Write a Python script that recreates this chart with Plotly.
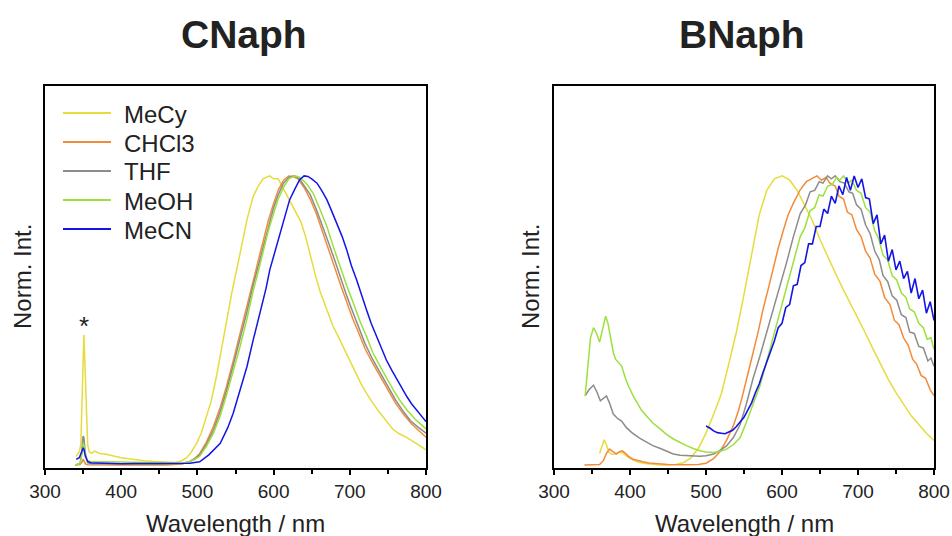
import plotly.graph_objects as go

# ---------------- DATA ----------------
solvents = ["MeCy", "CHCl3", "THF", "MeOH", "MeCN"]
colors = {"MeCy": "#E6DC3C", "CHCl3": "#F28C3C", "THF": "#8C8C8C", "MeOH": "#9BE03C", "MeCN": "#1414E6"}

# CNaph (left panel)
c_mecy_nm = [341, 345, 347, 349, 350, 351, 352, 354, 356, 358, 361, 365, 368, 372, 380, 390, 400, 410, 420, 430, 440, 450, 460, 470, 478, 486, 492, 499, 505, 512, 518, 525, 534, 545, 556, 565, 573, 580, 586, 591, 595, 600, 606, 612, 618, 624, 630, 636, 642, 648, 655, 661, 670, 678, 685, 692, 700, 707, 715, 722, 730, 740, 750, 757, 765, 775, 785, 792, 800]
c_mecy = [0.03, 0.045, 0.07, 0.25, 0.42, 0.45, 0.38, 0.2, 0.07, 0.045, 0.04, 0.048, 0.044, 0.04, 0.037, 0.03, 0.025, 0.022, 0.018, 0.015, 0.013, 0.011, 0.01, 0.009, 0.013, 0.025, 0.045, 0.075, 0.11, 0.167, 0.22, 0.306, 0.433, 0.594, 0.732, 0.848, 0.928, 0.965, 0.99, 0.995, 1.0, 0.99, 0.99, 0.96, 0.93, 0.9, 0.87, 0.84, 0.79, 0.725, 0.655, 0.6, 0.535, 0.48, 0.443, 0.405, 0.36, 0.318, 0.28, 0.248, 0.215, 0.179, 0.145, 0.122, 0.108, 0.095, 0.078, 0.065, 0.052]

c_chcl3_nm = [340, 346, 349, 350, 351, 353, 356, 370, 400, 430, 460, 480, 490, 497, 503, 512, 521, 530, 538, 547, 556, 565, 573, 580, 587, 593, 600, 606, 613, 620, 626, 632, 640, 648, 656, 664, 672, 680, 688, 696, 704, 712, 720, 730, 740, 750, 760, 770, 780, 790, 800]
c_chcl3 = [0.0, 0.002, 0.012, 0.02, 0.015, 0.004, 0.001, 0.0, 0.0, 0.0, 0.0, 0.003, 0.012, 0.024, 0.04, 0.08, 0.133, 0.2, 0.27, 0.36, 0.456, 0.55, 0.64, 0.71, 0.78, 0.845, 0.905, 0.95, 0.985, 1.0, 0.998, 0.99, 0.96, 0.92, 0.87, 0.81, 0.745, 0.685, 0.622, 0.562, 0.505, 0.455, 0.402, 0.352, 0.305, 0.258, 0.214, 0.177, 0.145, 0.12, 0.096]

c_thf_nm = [340, 346, 348, 350, 351, 353, 356, 360, 400, 450, 480, 490, 497, 503, 512, 521, 530, 538, 547, 556, 565, 573, 580, 587, 593, 600, 606, 613, 620, 627, 634, 640, 648, 656, 664, 672, 680, 688, 696, 704, 712, 720, 730, 740, 750, 760, 770, 780, 790, 800]
c_thf = [0.0, 0.005, 0.04, 0.1, 0.095, 0.04, 0.008, 0.004, 0.004, 0.003, 0.005, 0.012, 0.022, 0.035, 0.072, 0.12, 0.185, 0.255, 0.345, 0.435, 0.53, 0.62, 0.69, 0.765, 0.83, 0.89, 0.935, 0.975, 0.995, 1.0, 0.99, 0.965, 0.935, 0.885, 0.83, 0.77, 0.71, 0.645, 0.585, 0.528, 0.475, 0.42, 0.365, 0.317, 0.27, 0.225, 0.186, 0.152, 0.13, 0.11]

c_meoh_nm = [340, 346, 348, 350, 351, 353, 356, 360, 400, 450, 480, 490, 497, 503, 512, 521, 530, 538, 547, 556, 565, 573, 580, 587, 593, 600, 606, 613, 620, 628, 635, 644, 652, 660, 670, 678, 687, 696, 705, 713, 722, 730, 740, 748, 757, 766, 775, 787, 800]
c_meoh = [0.0, 0.005, 0.03, 0.075, 0.07, 0.03, 0.015, 0.012, 0.01, 0.006, 0.006, 0.012, 0.02, 0.03, 0.065, 0.11, 0.17, 0.24, 0.325, 0.41, 0.505, 0.6, 0.67, 0.745, 0.81, 0.87, 0.92, 0.96, 0.99, 1.0, 0.995, 0.97, 0.94, 0.89, 0.825, 0.758, 0.686, 0.62, 0.558, 0.5, 0.444, 0.39, 0.34, 0.3, 0.26, 0.222, 0.19, 0.155, 0.125]

c_mecn_nm = [341, 345, 348, 350, 351, 353, 356, 360, 380, 400, 420, 440, 460, 480, 490, 503, 515, 530, 540, 547, 556, 565, 573, 582, 590, 595, 602, 608, 615, 621, 628, 634, 640, 645, 650, 657, 663, 670, 676, 683, 690, 696, 702, 709, 715, 722, 728, 735, 741, 748, 755, 762, 768, 775, 781, 788, 794, 800]
c_mecn = [0.02, 0.025, 0.045, 0.058, 0.055, 0.03, 0.012, 0.008, 0.006, 0.004, 0.005, 0.005, 0.004, 0.005, 0.006, 0.011, 0.035, 0.075, 0.13, 0.179, 0.26, 0.34, 0.43, 0.525, 0.61, 0.675, 0.74, 0.8, 0.86, 0.917, 0.955, 0.986, 1.0, 0.998, 0.99, 0.975, 0.95, 0.917, 0.88, 0.836, 0.79, 0.744, 0.69, 0.64, 0.588, 0.536, 0.49, 0.444, 0.403, 0.363, 0.328, 0.294, 0.265, 0.236, 0.212, 0.19, 0.17, 0.15]

# BNaph (right panel)
b_mecy_nm = [360, 363, 366, 369, 372, 376, 380, 385, 390, 395, 400, 405, 410, 420, 430, 440, 450, 460, 470, 480, 490, 500, 510, 520, 530, 540, 550, 560, 570, 580, 590, 600, 610, 620, 630, 640, 650, 660, 670, 680, 690, 700, 710, 720, 730, 740, 750, 760, 770, 780, 790, 800]
b_mecy = [0.04, 0.06, 0.087, 0.07, 0.045, 0.037, 0.038, 0.044, 0.043, 0.032, 0.022, 0.016, 0.01, 0.005, 0.002, 0.0, 0.0, 0.002, 0.008, 0.024, 0.058, 0.11, 0.175, 0.245, 0.35, 0.46, 0.59, 0.73, 0.865, 0.95, 0.99, 1.0, 0.986, 0.95, 0.9, 0.845, 0.78, 0.72, 0.665, 0.61, 0.56, 0.505, 0.455, 0.4, 0.345, 0.295, 0.25, 0.21, 0.17, 0.14, 0.11, 0.085]

b_chcl3_nm = [340, 350, 360, 365, 369, 373, 377, 382, 386, 390, 394, 398, 404, 410, 417, 425, 435, 450, 470, 490, 500, 510, 518, 527, 536, 543, 549, 556, 562, 569, 575, 582, 589, 595, 602, 608, 615, 624, 632, 640, 646, 652, 658, 663, 670, 675, 681, 686, 692, 698, 704, 710, 716, 722, 729, 735, 742, 748, 754, 760, 766, 772, 777, 783, 789, 795, 800]
b_chcl3 = [0.0, 0.0, 0.002, 0.015, 0.04, 0.055, 0.048, 0.038, 0.046, 0.049, 0.04, 0.03, 0.02, 0.015, 0.011, 0.007, 0.004, 0.002, 0.001, 0.002, 0.006, 0.022, 0.045, 0.085, 0.136, 0.19, 0.25, 0.32, 0.389, 0.465, 0.538, 0.61, 0.686, 0.75, 0.814, 0.865, 0.906, 0.952, 0.98, 0.99, 1.0, 0.985, 0.995, 0.975, 0.965, 0.93, 0.92, 0.875, 0.865, 0.815, 0.79, 0.74, 0.715, 0.66, 0.635, 0.58, 0.555, 0.5, 0.485, 0.44, 0.415, 0.365, 0.35, 0.31, 0.3, 0.26, 0.24]

b_thf_nm = [341, 346, 352, 356, 361, 365, 369, 373, 378, 384, 389, 395, 402, 412, 422, 430, 440, 450, 457, 466, 475, 483, 492, 500, 510, 518, 527, 536, 545, 553, 562, 571, 580, 589, 597, 606, 615, 624, 631, 637, 643, 649, 654, 660, 665, 670, 676, 682, 688, 693, 698, 704, 710, 716, 722, 728, 733, 739, 745, 751, 757, 763, 768, 774, 780, 786, 792, 796, 800]
b_thf = [0.239, 0.26, 0.276, 0.255, 0.222, 0.232, 0.239, 0.215, 0.176, 0.16, 0.152, 0.13, 0.113, 0.094, 0.078, 0.067, 0.057, 0.045, 0.038, 0.034, 0.032, 0.031, 0.03, 0.032, 0.038, 0.05, 0.066, 0.095, 0.14, 0.21, 0.3, 0.377, 0.46, 0.54, 0.62, 0.7, 0.79, 0.87, 0.9, 0.945, 0.95, 0.98, 0.975, 1.0, 0.99, 1.0, 0.98, 0.975, 0.945, 0.94, 0.9, 0.885, 0.83, 0.8, 0.74, 0.71, 0.655, 0.635, 0.585, 0.57, 0.52, 0.51, 0.46, 0.455, 0.41, 0.405, 0.36, 0.37, 0.342]

b_meoh_nm = [341, 345, 348, 352, 356, 360, 364, 368, 371, 374, 378, 381, 385, 389, 394, 398, 404, 409, 415, 422, 430, 440, 448, 457, 466, 475, 484, 492, 500, 510, 518, 527, 536, 545, 553, 562, 571, 580, 589, 597, 606, 615, 624, 630, 637, 643, 649, 654, 660, 666, 672, 676, 681, 687, 692, 698, 704, 710, 716, 722, 727, 733, 739, 745, 751, 757, 763, 768, 774, 780, 786, 791, 796, 800]
b_meoh = [0.239, 0.35, 0.44, 0.475, 0.455, 0.425, 0.47, 0.515, 0.49, 0.446, 0.39, 0.366, 0.355, 0.342, 0.3, 0.273, 0.24, 0.216, 0.19, 0.169, 0.145, 0.124, 0.106, 0.09, 0.077, 0.066, 0.056, 0.049, 0.045, 0.043, 0.047, 0.055, 0.07, 0.095, 0.147, 0.21, 0.274, 0.36, 0.446, 0.53, 0.618, 0.7, 0.79, 0.82, 0.88, 0.89, 0.935, 0.93, 0.965, 0.97, 0.995, 0.985, 1.0, 0.975, 0.985, 0.95, 0.94, 0.89, 0.875, 0.81, 0.785, 0.725, 0.71, 0.655, 0.64, 0.595, 0.58, 0.54, 0.53, 0.49, 0.475, 0.435, 0.44, 0.4]

b_mecn_nm = [500, 505, 510, 515, 520, 525, 530, 535, 540, 545, 550, 555, 560, 565, 570, 575, 580, 585, 590, 595, 600, 605, 610, 615, 620, 625, 630, 635, 640, 645, 650, 655, 660, 665, 670, 675, 680, 685, 690, 695, 700, 705, 710, 715, 720, 725, 730, 735, 740, 745, 750, 755, 760, 765, 770, 775, 780, 785, 790, 795, 800]
b_mecn = [0.135, 0.128, 0.118, 0.112, 0.11, 0.108, 0.114, 0.12, 0.133, 0.148, 0.165, 0.19, 0.215, 0.25, 0.28, 0.32, 0.355, 0.395, 0.43, 0.475, 0.49, 0.545, 0.555, 0.62, 0.625, 0.69, 0.7, 0.765, 0.765, 0.825, 0.825, 0.885, 0.87, 0.93, 0.905, 0.965, 0.935, 0.995, 0.95, 1.0, 0.96, 0.99, 0.925, 0.92, 0.835, 0.865, 0.765, 0.795, 0.705, 0.745, 0.675, 0.705, 0.645, 0.67, 0.595, 0.645, 0.575, 0.605, 0.525, 0.565, 0.5]

cnaph = {"MeCy": (c_mecy_nm, c_mecy), "CHCl3": (c_chcl3_nm, c_chcl3), "THF": (c_thf_nm, c_thf),
         "MeOH": (c_meoh_nm, c_meoh), "MeCN": (c_mecn_nm, c_mecn)}
bnaph = {"MeCy": (b_mecy_nm, b_mecy), "CHCl3": (b_chcl3_nm, b_chcl3), "THF": (b_thf_nm, b_thf),
         "MeOH": (b_meoh_nm, b_meoh), "MeCN": (b_mecn_nm, b_mecn)}

x_ticks = [300, 400, 500, 600, 700, 800]
x_minor_ticks = [350, 450, 550, 650, 750]
panel_titles = ["CNaph", "BNaph"]

# ---------------- FIGURE ----------------
W, H = 952, 536
FONT = "Liberation Sans, Arial, sans-serif"
fig = go.Figure()

for s in solvents:
    x, y = cnaph[s]
    fig.add_trace(go.Scatter(x=x, y=y, mode="lines", name=s, xaxis="x", yaxis="y",
                             line=dict(color=colors[s], width=1.5), showlegend=False))
for s in solvents:
    x, y = bnaph[s]
    fig.add_trace(go.Scatter(x=x, y=y, mode="lines", name=s, xaxis="x2", yaxis="y2",
                             line=dict(color=colors[s], width=1.6 if s == "MeCN" else 1.5),
                             showlegend=False))

ydom = [1 - 468 / H, 1 - 86 / H]
xdom1 = [45 / W, 426 / W]
xdom2 = [554 / W, 934 / W]
yrange = [-0.0104, 1.311]

def xaxis(dom, anchor):
    return dict(domain=dom, anchor=anchor, range=[300, 800], tickvals=x_ticks,
                ticks="outside", ticklen=5, tickwidth=1.5, tickcolor="#000",
                showline=True, mirror=True, linecolor="#000", linewidth=2,
                showgrid=False, zeroline=False, automargin=False,
                tickfont=dict(family=FONT, size=19, color="#222"),
                minor=dict(tickvals=x_minor_ticks, ticks="outside", ticklen=4,
                           tickwidth=1.5, tickcolor="#000"))

def yaxis(anchor):
    return dict(domain=ydom, anchor=anchor, range=yrange, showticklabels=False, ticks="",
                showline=True, mirror=True, linecolor="#000", linewidth=2,
                showgrid=False, zeroline=False, automargin=False)

annotations = []
shapes = []
for title, cx in zip(panel_titles, [244, 742]):
    annotations.append(dict(text=title, x=cx / W, y=1 - 34 / H, xref="paper", yref="paper",
                            xanchor="center", yanchor="middle", showarrow=False,
                            font=dict(family=FONT, size=39, color="#222", weight="bold")))
for cx in [235.5, 744]:
    annotations.append(dict(text="Wavelength / nm", x=cx / W, y=1 - 523 / H, xref="paper", yref="paper",
                            xanchor="center", yanchor="middle", showarrow=False,
                            font=dict(family=FONT, size=24, color="#222")))
for cx in [22, 530]:
    annotations.append(dict(text="Norm. Int.", x=cx / W, y=1 - 277 / H, xref="paper", yref="paper",
                            xanchor="center", yanchor="middle", showarrow=False, textangle=-90,
                            font=dict(family=FONT, size=24, color="#222")))
annotations.append(dict(text="*", x=351, y=0.422, xref="x", yref="y", xanchor="center", yanchor="bottom",
                        showarrow=False, font=dict(family=FONT, size=26, color="#222")))

# legend (left panel, top-left): line sample + label per solvent
legend_rows_px = [113, 142, 171, 200, 229]
for s, ry in zip(solvents, legend_rows_px):
    shapes.append(dict(type="line", xref="paper", yref="paper",
                       x0=63 / W, x1=111 / W, y0=1 - ry / H, y1=1 - ry / H,
                       line=dict(color=colors[s], width=2)))
    annotations.append(dict(text=s, x=122 / W, y=1 - (ry + 1) / H, xref="paper", yref="paper",
                            xanchor="left", yanchor="middle", showarrow=False,
                            font=dict(family=FONT, size=24, color="#222")))

fig.update_layout(
    width=W, height=H, margin=dict(l=0, r=0, t=0, b=0, pad=0, autoexpand=False),
    paper_bgcolor="white", plot_bgcolor="white",
    xaxis=xaxis(xdom1, "y"), yaxis=yaxis("x"),
    xaxis2=xaxis(xdom2, "y2"), yaxis2=yaxis("x2"),
    annotations=annotations, shapes=shapes,
    showlegend=False,
)

fig.write_html("out.html")
